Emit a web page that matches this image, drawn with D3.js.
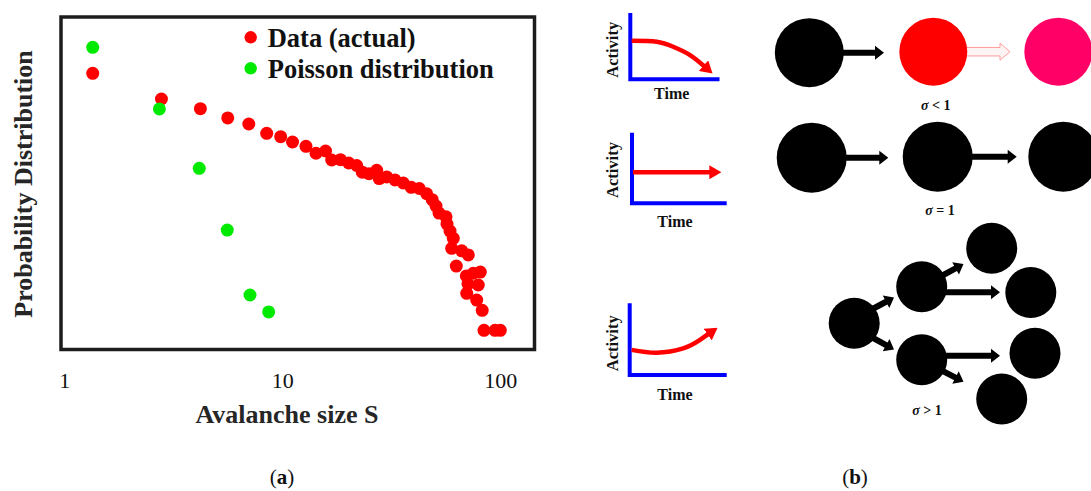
<!DOCTYPE html>
<html>
<head>
<meta charset="utf-8">
<script src="https://cdn.jsdelivr.net/npm/d3@7"></script>
<style>
  html, body { margin: 0; padding: 0; background: #fff; }
  svg { display: block; }
  text { font-family: "Liberation Serif", "Times New Roman", serif; }
</style>
</head>
<body>
<svg id="fig" width="1091" height="491"></svg>
<script>
// ---- (a) avalanche size distribution ----
const dataSize = [1.35, 2.79, 4.21, 5.62, 7.02, 8.48, 9.83, 11.14, 12.84, 14.28,
  15.79, 16.85, 18.49, 20.17, 21.95, 23.28, 24.99, 27.10, 27.83, 30.12,
  32.89, 35.89, 39.02, 42.50, 45.96, 48.71, 50.70, 52.34, 56.35, 56.95,
  58.79, 60.87, 59.84, 66.53, 71.33, 62.83, 69.82, 75.17, 80.95, 79.25,
  70.13, 77.92, 82.61, 84.19, 94.56, 100.0, 71.1];
const dataProb = [0.1436, 0.0592, 0.0424, 0.0308, 0.0250, 0.01816, 0.01614, 0.01346, 0.01159, 0.00912,
  0.00986, 0.00723, 0.00731, 0.00652, 0.00598, 0.00475, 0.00451, 0.00507, 0.00381, 0.00403,
  0.00363, 0.00327, 0.00282, 0.00271, 0.00226, 0.00184, 0.00148, 0.00116, 0.00102, 0.000796,
  0.000625, 0.000486, 0.000344, 0.000316, 0.000274, 0.000187, 0.000133, 0.000146, 0.000152, 0.0000973,
  0.0000731, 0.0000579, 0.0000406, 0.0000204, 0.0000204, 0.0000204, 0.0001007];
const poissonSize = [1.35, 2.73, 4.16, 5.59, 7.11, 8.66];
const poissonProb = [0.352, 0.0420, 0.00543, 0.000647, 0.0000689, 0.0000384];
const xTickValues = [1, 10, 100];
const seriesNames = ["Data (actual)", "Poisson distribution"];
const seriesColors = ["#ff0000", "#00ea00"];

// ---- (b) activity sketches: time vs activity for the three regimes ----
const decayTime = [0.015, 0.29, 0.47, 0.655, 0.82];
const decayActivity = [0.58, 0.565, 0.49, 0.365, 0.185];
const steadyTime = [0.01, 0.82];
const steadyActivity = [0.44, 0.44];
const growthTime = [0.02, 0.27, 0.54, 0.71, 0.805];
const growthActivity = [0.35, 0.31, 0.37, 0.49, 0.58];
const regimeLabels = ["< 1", "= 1", "> 1"];

const svg = d3.select("#fig");

// ================= panel (a) =================
const x = d3.scaleLog().domain([1, 100]).range([64.3, 500.3]);
const y = d3.scaleLog().domain([1e-5, 1]).range([351, 17]);

const pa = svg.append("g");

pa.append("rect")
  .attr("x", 61).attr("y", 17).attr("width", 473.5).attr("height", 332.5)
  .attr("fill", "none").attr("stroke", "#1c1c1c").attr("stroke-width", 3.5);

const dataPts = dataSize.map((s, i) => ({ s, p: dataProb[i] }));
const poisPts = poissonSize.map((s, i) => ({ s, p: poissonProb[i] }));

pa.append("g").selectAll("circle").data(dataPts).join("circle")
  .attr("cx", d => x(d.s)).attr("cy", d => y(d.p)).attr("r", 6.5)
  .attr("fill", seriesColors[0]);

pa.append("g").selectAll("circle").data(poisPts).join("circle")
  .attr("cx", d => x(d.s)).attr("cy", d => y(d.p)).attr("r", 6.5)
  .attr("fill", seriesColors[1]);

const xAxis = pa.append("g")
  .attr("transform", "translate(0,351)")
  .call(d3.axisBottom(x).tickValues(xTickValues).tickFormat(d3.format("d")).tickSize(0).tickPadding(21));
xAxis.select(".domain").remove();
xAxis.selectAll("text")
  .attr("font-family", "Liberation Serif, Times New Roman, serif")
  .attr("font-size", 22).attr("fill", "#111");

pa.append("text")
  .attr("x", 287).attr("y", 422.5).attr("text-anchor", "middle")
  .attr("font-size", 26).attr("font-weight", "bold").attr("fill", "#262626")
  .text("Avalanche size S");

pa.append("text")
  .attr("transform", "translate(32,184) rotate(-90)").attr("text-anchor", "middle")
  .attr("font-size", 26).attr("font-weight", "bold").attr("fill", "#262626")
  .text("Probability Distribution");

// legend
const legend = pa.append("g").selectAll("g").data(seriesNames).join("g")
  .attr("transform", (d, i) => `translate(250.7,${37.3 + i * 31})`);
legend.append("circle").attr("r", 6.2).attr("fill", (d, i) => seriesColors[i]);
legend.append("text")
  .attr("x", 17).attr("y", 9.2)
  .attr("font-size", 26.5).attr("font-weight", "bold").attr("fill", "#111")
  .text(d => d);

// ================= panel (b) =================
const pb = svg.append("g");

// block arrow as a polygon from (x1,y1) to tip (x2,y2)
function blockArrow(g, x1, y1, x2, y2, o) {
  const dx = x2 - x1, dy = y2 - y1, len = Math.hypot(dx, dy);
  const ux = dx / len, uy = dy / len, nx = -uy, ny = ux;
  const hs = o.shaft / 2, hw = o.headW / 2;
  const bx = x2 - ux * o.headL, by = y2 - uy * o.headL;
  const pts = [
    [x1 + nx * hs, y1 + ny * hs],
    [bx + nx * hs, by + ny * hs],
    [bx + nx * hw, by + ny * hw],
    [x2, y2],
    [bx - nx * hw, by - ny * hw],
    [bx - nx * hs, by - ny * hs],
    [x1 - nx * hs, y1 - ny * hs]
  ];
  g.append("polygon")
    .attr("points", pts.map(p => p.join(",")).join(" "))
    .attr("fill", o.fill || "#000")
    .attr("stroke", o.stroke || "none")
    .attr("stroke-width", o.strokeWidth || 0)
    .attr("stroke-linejoin", "miter");
}

const solid = { shaft: 6, headW: 14, headL: 9 };

// arrowhead marker for the activity curves
const defs = svg.append("defs");
defs.append("marker")
  .attr("id", "redHead").attr("viewBox", "0 0 12 14")
  .attr("refX", 2).attr("refY", 7)
  .attr("markerWidth", 12).attr("markerHeight", 14)
  .attr("markerUnits", "userSpaceOnUse").attr("orient", "auto")
  .append("path").attr("d", "M0,0 L12,7 L0,14 Z").attr("fill", "#ff0000");

// small activity-vs-time sketches
const sketches = [
  { x0: 630.3, x1: 719.5, yb: 79.2, yt: 13, tx: 671.7, tb: 99.3, ay: 49.8, t: decayTime, a: decayActivity },
  { x0: 632, x1: 726.7, yb: 203.3, yt: 132.7, tx: 675, tb: 226.5, ay: 170, t: steadyTime, a: steadyActivity },
  { x0: 629.7, x1: 726.7, yb: 375, yt: 303.3, tx: 675, tb: 400, ay: 343.3, t: growthTime, a: growthActivity }
];

sketches.forEach(s => {
  const sx = d3.scaleLinear().domain([0, 1]).range([s.x0, s.x1 + 2]);
  const sy = d3.scaleLinear().domain([0, 1]).range([s.yb, s.yt]);
  const g = pb.append("g");
  g.append("path")
    .attr("d", `M${s.x0},${s.yt} L${s.x0},${s.yb} L${s.x1},${s.yb}`)
    .attr("fill", "none").attr("stroke", "#0000ff").attr("stroke-width", 4)
    .attr("stroke-linejoin", "miter");
  const pts = s.t.map((t, i) => [sx(t), sy(s.a[i])]);
  g.append("path")
    .attr("d", d3.line().curve(d3.curveNatural)(pts))
    .attr("fill", "none").attr("stroke", "#ff0000").attr("stroke-width", 4.5)
    .attr("marker-end", "url(#redHead)");
  g.append("text")
    .attr("transform", `translate(618.3,${s.ay}) rotate(-90)`).attr("text-anchor", "middle")
    .attr("font-size", 16.5).attr("font-weight", "bold").attr("fill", "#111")
    .text("Activity");
  g.append("text")
    .attr("x", s.tx).attr("y", s.tb).attr("text-anchor", "middle")
    .attr("font-size", 16).attr("font-weight", "bold").attr("fill", "#111")
    .text("Time");
});

// subcritical chain: activity fades
blockArrow(pb, 830, 52.7, 884, 52.7, solid);
blockArrow(pb, 960, 51.7, 1010, 51.7, { shaft: 8.5, headW: 17, headL: 10, fill: "#fff4f4", stroke: "#ff9c9c", strokeWidth: 1 });
pb.append("circle").attr("cx", 809.3).attr("cy", 52.7).attr("r", 34.5).attr("fill", "#000");
pb.append("circle").attr("cx", 933.3).attr("cy", 51.7).attr("r", 34).attr("fill", "#ff0000");
pb.append("circle").attr("cx", 1058.3).attr("cy", 51.7).attr("r", 34).attr("fill", "#ff0066");

// critical chain: activity is sustained
blockArrow(pb, 830, 157.7, 888.3, 157.7, solid);
blockArrow(pb, 955, 156.7, 1016.7, 156.7, solid);
[[811.7, 157.7], [937.7, 156.7], [1063.3, 156.7]].forEach(c =>
  pb.append("circle").attr("cx", c[0]).attr("cy", c[1]).attr("r", 35).attr("fill", "#000"));

// supercritical tree: activity branches out
blockArrow(pb, 865, 313, 894, 297.5, solid);
blockArrow(pb, 865, 333.5, 894, 349.5, solid);
blockArrow(pb, 935, 279.5, 963.5, 264, solid);
blockArrow(pb, 940, 292.3, 1000, 292.3, solid);
blockArrow(pb, 940, 355.7, 1000, 355.7, solid);
blockArrow(pb, 935, 367, 963.5, 381.7, solid);
[[854.2, 323.3], [921.7, 286.7], [921.7, 359.7], [991.7, 248.3], [1030.8, 292.5], [1035, 353.3], [1001.7, 399]]
  .forEach(c => pb.append("circle").attr("cx", c[0]).attr("cy", c[1]).attr("r", 25.5).attr("fill", "#000"));

// regime labels
const sigmaPos = [[935.7, 110], [940, 215], [927, 415]];
regimeLabels.forEach((lab, i) => {
  const t = pb.append("text")
    .attr("x", sigmaPos[i][0]).attr("y", sigmaPos[i][1]).attr("text-anchor", "middle")
    .attr("font-size", 14).attr("font-weight", "bold").attr("fill", "#111");
  t.append("tspan").attr("font-style", "italic").text("σ");
  t.append("tspan").text(" " + lab);
});

// panel captions
[["a", 282], ["b", 855]].forEach(([l, cx]) => {
  const t = svg.append("text")
    .attr("x", cx).attr("y", 484).attr("text-anchor", "middle")
    .attr("font-size", 21).attr("fill", "#111");
  t.append("tspan").text("(");
  t.append("tspan").attr("font-weight", "bold").text(l);
  t.append("tspan").text(")");
});
</script>
</body>
</html>
